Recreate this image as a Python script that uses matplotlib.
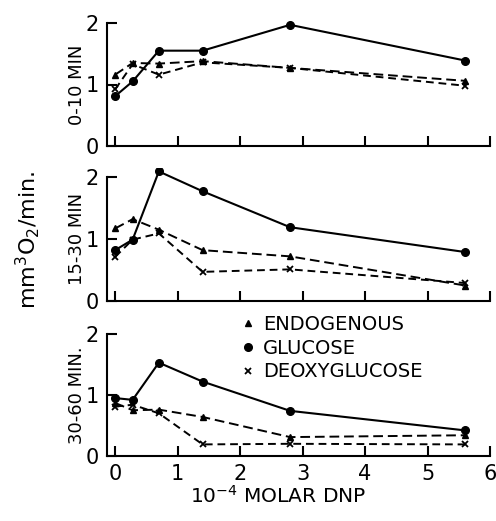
import matplotlib
matplotlib.use("Agg")
import matplotlib.pyplot as plt
from matplotlib.lines import Line2D

plt.rcParams['font.family'] = ['DejaVu Sans']

# 10^-4 molar DNP
dnp = [0, 0.28, 0.7, 1.4, 2.8, 5.6]

panels = ["0-10 MIN", "15-30 MIN", "30-60 MIN."]

glucose = [
    [0.81, 1.05, 1.55, 1.55, 1.97, 1.39],
    [0.82, 0.99, 2.09, 1.77, 1.19, 0.79],
    [0.95, 0.92, 1.53, 1.22, 0.74, 0.42],
]
endogenous = [
    [1.16, 1.35, 1.34, 1.38, 1.27, 1.06],
    [1.17, 1.32, 1.15, 0.82, 0.72, 0.25],
    [0.87, 0.75, 0.76, 0.64, 0.31, 0.34],
]
deoxyglucose = [
    [0.92, 1.33, 1.16, 1.36, 1.27, 0.98],
    [0.71, 0.99, 1.09, 0.47, 0.51, 0.29],
    [0.81, 0.84, 0.70, 0.19, 0.20, 0.19],
]

W, H = 496, 521
fig = plt.figure(figsize=(W / 100, H / 100), dpi=100)

# pixel positions: (y of value 0, y of value 2)
rows = [(146, 23), (301, 177), (456, 334)]
x_left, x_right = 107, 490
xmin, xmax = -0.13, 6.0
ytop = 2.15

for i, (y0, y2) in enumerate(rows):
    ppu = (y0 - y2) / 2.0
    bottom = (H - y0) / H
    height = ppu * ytop / H
    ax = fig.add_axes([x_left / W, bottom, (x_right - x_left) / W, height])
    ax.plot(dnp, glucose[i], color='black', lw=1.5, marker='o', ms=5.5)
    ax.plot(dnp, endogenous[i], color='black', lw=1.4, ls=(0, (5, 2.5)),
            marker='^', ms=4.5)
    ax.plot(dnp, deoxyglucose[i], color='black', lw=1.4, ls=(0, (4, 2.5)),
            marker='x', ms=4, mew=1.3)
    ax.set_xlim(xmin, xmax)
    ax.set_ylim(0, ytop)
    ax.spines['top'].set_visible(False)
    ax.spines['right'].set_visible(False)
    ax.spines['left'].set_bounds(0, 2)
    ax.spines['left'].set_linewidth(1.5)
    ax.spines['bottom'].set_linewidth(1.5)
    ax.set_yticks([0, 1, 2])
    ax.set_xticks(range(7))
    ax.tick_params(direction='in', length=7, width=1.5, labelsize=15, pad=6)
    ax.set_yticklabels(['0', '1', '2'])
    if i < 2:
        ax.set_xticklabels([])
    ax.set_ylabel(panels[i], fontsize=13)
    ax.yaxis.set_label_coords(-0.055, 2 / ytop / 2)
    if i == 2:
        handles = [
            Line2D([], [], color='black', ls='none', marker='^', ms=4.5),
            Line2D([], [], color='black', ls='none', marker='o', ms=5.5),
            Line2D([], [], color='black', ls='none', marker='x', ms=4, mew=1.3),
        ]
        ax.legend(handles, ['ENDOGENOUS', 'GLUCOSE', 'DEOXYGLUCOSE'],
                  loc='upper left', bbox_to_anchor=(232 / W, 1 - 305 / H),
                  bbox_transform=fig.transFigure, frameon=False,
                  fontsize=14, handlelength=0.6, handletextpad=0.5,
                  labelspacing=0.25, borderpad=0)

fig.text(28 / W, 1 - 240 / H, r'mm$^3$O$_2$/min.', rotation=90,
         ha='center', va='center', fontsize=16)
fig.text(278 / W, 1 - 496 / H, r'10$^{-4}$ MOLAR DNP', ha='center',
         va='center', fontsize=14.5)

fig.savefig('out.png', dpi=100)
